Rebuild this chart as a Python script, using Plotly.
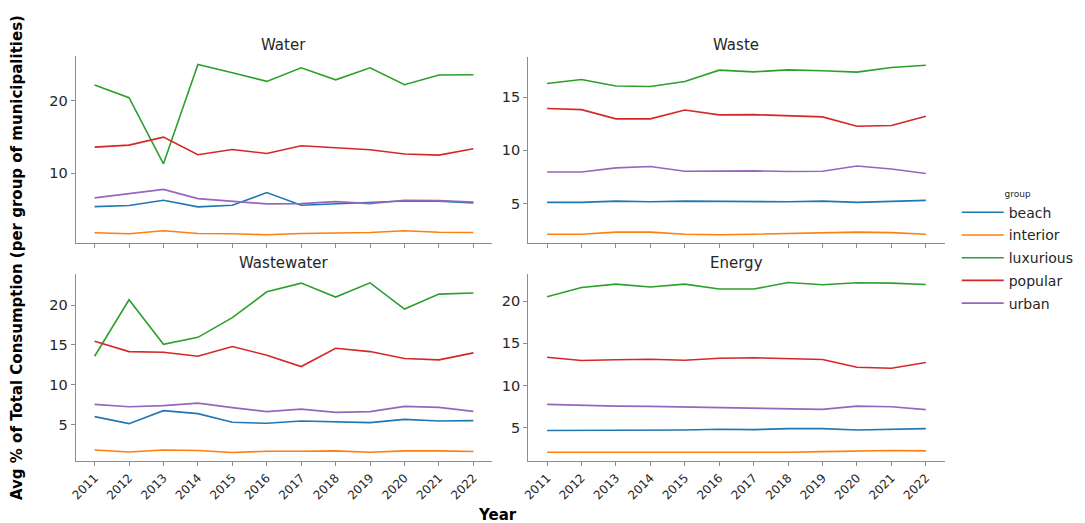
import plotly.graph_objects as go

years = list(range(2011, 2023))
groups = ["beach", "interior", "luxurious", "popular", "urban"]
colors = ["#1f77b4", "#ff7f0e", "#2ca02c", "#d62728", "#9467bd"]

water_beach = [5.36, 5.50, 6.23, 5.32, 5.54, 7.29, 5.54, 5.73, 5.87, 6.14, 6.09, 5.87]
water_interior = [1.74, 1.60, 2.01, 1.64, 1.60, 1.46, 1.64, 1.74, 1.78, 2.01, 1.82, 1.78]
water_luxurious = [22.16, 20.41, 11.28, 25.00, 23.86, 22.67, 24.55, 22.89, 24.55, 22.20, 23.54, 23.58]
water_popular = [13.58, 13.86, 14.96, 12.52, 13.25, 12.70, 13.76, 13.44, 13.21, 12.62, 12.48, 13.35]
water_urban = [6.56, 7.15, 7.74, 6.46, 6.05, 5.73, 5.77, 6.05, 5.77, 6.23, 6.18, 6.00]

waste_beach = [5.11, 5.11, 5.23, 5.17, 5.23, 5.20, 5.14, 5.17, 5.23, 5.11, 5.20, 5.30]
waste_interior = [2.12, 2.12, 2.31, 2.31, 2.12, 2.06, 2.12, 2.18, 2.18, 2.31, 2.27, 2.12]
waste_luxurious = [16.29, 16.66, 16.05, 16.01, 16.48, 17.54, 17.38, 17.57, 17.48, 17.36, 17.79, 18.01]
waste_popular = [13.93, 13.83, 12.96, 12.96, 13.80, 13.34, 13.36, 13.27, 13.15, 12.27, 12.34, 13.21]
waste_urban = [7.97, 7.97, 8.35, 8.48, 8.04, 8.07, 8.07, 8.01, 8.04, 8.53, 8.25, 7.82]

wastewater_beach = [5.99, 5.11, 6.74, 6.37, 5.28, 5.15, 5.44, 5.36, 5.24, 5.65, 5.44, 5.49]
wastewater_interior = [1.80, 1.55, 1.80, 1.73, 1.48, 1.64, 1.64, 1.68, 1.52, 1.68, 1.68, 1.60]
wastewater_luxurious = [13.58, 20.69, 15.09, 15.96, 18.43, 21.69, 22.78, 21.03, 22.82, 19.52, 21.40, 21.53]
wastewater_popular = [15.46, 14.17, 14.09, 13.58, 14.80, 13.71, 12.29, 14.59, 14.17, 13.30, 13.13, 14.01]
wastewater_urban = [7.53, 7.24, 7.37, 7.69, 7.12, 6.62, 6.94, 6.53, 6.62, 7.28, 7.16, 6.65]

energy_beach = [4.63, 4.63, 4.66, 4.66, 4.70, 4.78, 4.74, 4.86, 4.86, 4.70, 4.78, 4.86]
energy_interior = [2.05, 2.05, 2.02, 2.05, 2.05, 2.09, 2.09, 2.05, 2.13, 2.21, 2.25, 2.21]
energy_luxurious = [20.56, 21.66, 22.06, 21.71, 22.06, 21.47, 21.47, 22.25, 21.98, 22.22, 22.18, 22.02]
energy_popular = [13.36, 12.97, 13.05, 13.12, 13.00, 13.24, 13.29, 13.20, 13.08, 12.17, 12.05, 12.73]
energy_urban = [7.75, 7.63, 7.54, 7.51, 7.43, 7.31, 7.31, 7.19, 7.15, 7.54, 7.47, 7.12]

panel_titles = ["Water", "Waste", "Wastewater", "Energy"]
panel_data = [
    [water_beach, water_interior, water_luxurious, water_popular, water_urban],
    [waste_beach, waste_interior, waste_luxurious, waste_popular, waste_urban],
    [wastewater_beach, wastewater_interior, wastewater_luxurious, wastewater_popular, wastewater_urban],
    [energy_beach, energy_interior, energy_luxurious, energy_popular, energy_urban],
]
y_ticks = [[10, 20], [5, 10, 15], [5, 10, 15, 20], [5, 10, 15, 20]]

# page body has an 8px margin: work in screen pixels and shift by OFF
OFF = 8
W, H = 1085 - OFF, 523 - OFF
# screen pixel boxes: (left, right, top, bottom)
boxes = [(70, 489, 56, 243.3), (525, 944, 56.7, 243.3),
         (70, 489, 274.3, 461), (525, 944, 274, 461)]
title_y = [45, 45.5, 263, 263]


def px(x):
    return (x - OFF) / W


def py(y):
    return 1 - (y - OFF) / H


FONT = "DejaVu Sans"
SPINE = "#8c8c8c"
TXT = "#262626"

fig = go.Figure()
layout = dict(width=W, height=H, margin=dict(l=0, r=0, t=0, b=0),
              paper_bgcolor="white", plot_bgcolor="white",
              font=dict(family=FONT, color=TXT), annotations=[])

for i, (title, series) in enumerate(zip(panel_titles, panel_data)):
    ax = "" if i == 0 else str(i + 1)
    for g, (name, vals) in enumerate(zip(groups, series)):
        fig.add_trace(go.Scatter(x=years, y=vals, mode="lines", name=name,
                                 line=dict(color=colors[g], width=1.6),
                                 xaxis="x" + ax, yaxis="y" + ax,
                                 legendgroup=name, showlegend=(i == 0)))
    allv = [v for s in series for v in s]
    lo, hi = min(allv), max(allv)
    pad = (hi - lo) * 0.05
    l, r, t, b = boxes[i]
    layout["xaxis" + ax] = dict(domain=[px(l), px(r)], anchor="y" + ax,
                                range=[2011 - 0.55, 2022 + 0.55],
                                tickvals=years, ticktext=[str(y) for y in years],
                                showticklabels=(i >= 2), tickangle=-45,
                                tickfont=dict(size=12, color=TXT),
                                ticks="outside", ticklen=4, tickcolor=SPINE,
                                showline=True, linecolor=SPINE, linewidth=1.2,
                                showgrid=False, zeroline=False)
    layout["yaxis" + ax] = dict(domain=[py(b), py(t)], anchor="x" + ax,
                                range=[lo - pad, hi + pad],
                                tickvals=y_ticks[i],
                                tickfont=dict(size=14.5, color=TXT),
                                ticks="outside", ticklen=4, tickcolor=SPINE,
                                showline=True, linecolor=SPINE, linewidth=1.2,
                                showgrid=False, zeroline=False)
    layout["annotations"].append(dict(text=title, x=px((l + r) / 2), y=py(title_y[i]),
                                      xref="paper", yref="paper", showarrow=False,
                                      xanchor="center", yanchor="middle",
                                      font=dict(size=15, color=TXT)))

layout["annotations"].append(dict(text="<b>Avg % of Total Consumption (per group of municipalities)</b>",
                                  x=px(11), y=py(257), xref="paper", yref="paper",
                                  showarrow=False, textangle=-90, xanchor="center", yanchor="middle",
                                  borderpad=0, font=dict(size=15, color="black")))
layout["annotations"].append(dict(text="<b>Year</b>", x=px(494), y=py(515),
                                  xref="paper", yref="paper", showarrow=False,
                                  xanchor="center", yanchor="middle",
                                  font=dict(size=15, color="black")))
layout["legend"] = dict(x=px(956), y=py(185), xanchor="left", yanchor="top",
                        bgcolor="rgba(0,0,0,0)", font=dict(size=14, color=TXT),
                        title=dict(text="group", font=dict(size=9, color=TXT), side="top center"),
                        itemwidth=42, tracegroupgap=1.5)
fig.update_layout(**layout)
fig.write_html("out.html")
